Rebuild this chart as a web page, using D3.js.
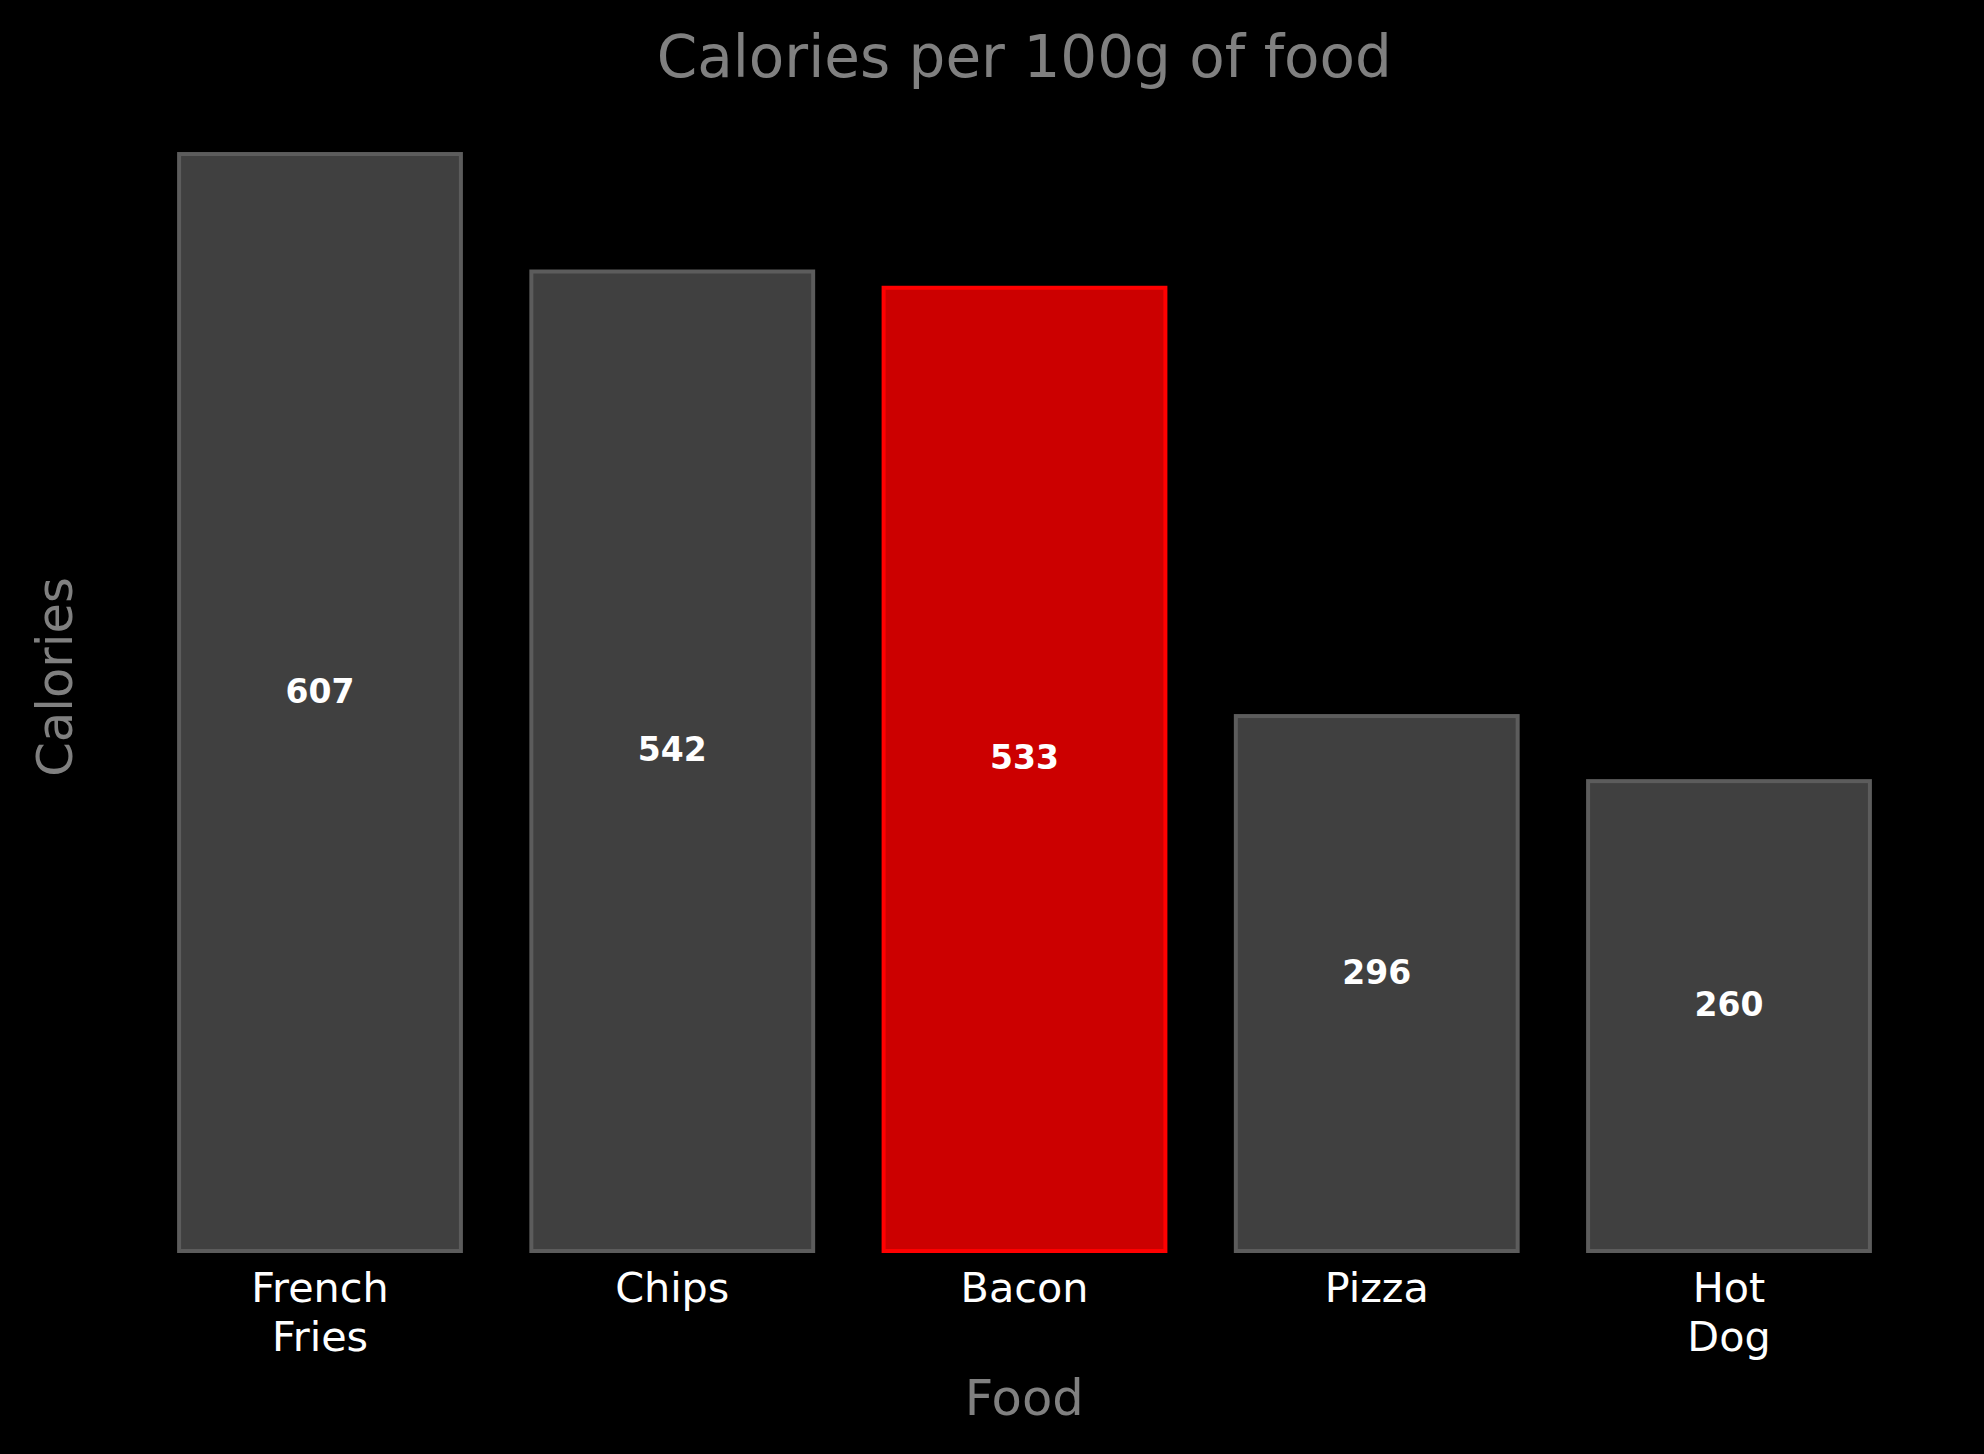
<!DOCTYPE html>
<html><head><meta charset="utf-8">
<script src="https://cdn.jsdelivr.net/npm/d3@7"></script>
<style>html,body{margin:0;padding:0;background:#000;}svg{display:block;}</style>
</head><body>
<script>
const categories = ["French Fries", "Chips", "Bacon", "Pizza", "Hot Dog"];
const tickLines = [["French", "Fries"], ["Chips"], ["Bacon"], ["Pizza"], ["Hot", "Dog"]];
const calories = [607, 542, 533, 296, 260];
const highlight = "Bacon";

const W = 1984, H = 1454;
const svg = d3.select("body").append("svg").attr("width", W).attr("height", H)
  .style("background", "#000");
svg.append("rect").attr("width", W).attr("height", H).attr("fill", "#000");

const font = "DejaVu Sans, sans-serif";
const x = d3.scaleBand().domain(categories).range([143.875, 1905.125])
  .paddingInner(0.2).paddingOuter(0.1);
const yMax = d3.max(calories) * 1.05;
const y = d3.scaleLinear().domain([0, yMax]).range([1251, 1251 - yMax * 1.8072]);

const data = categories.map((c, i) => ({c, v: calories[i], lines: tickLines[i]}));

svg.selectAll("rect.bar").data(data).join("rect").attr("class", "bar")
  .attr("x", d => x(d.c)).attr("width", x.bandwidth())
  .attr("y", d => y(d.v)).attr("height", d => y(0) - y(d.v))
  .attr("fill", d => d.c === highlight ? "#cc0000" : "#404040")
  .attr("stroke", d => d.c === highlight ? "#ff0000" : "#5c5c5c")
  .attr("stroke-width", 4);

svg.selectAll("text.val").data(data).join("text").attr("class", "val")
  .attr("x", d => x(d.c) + x.bandwidth() / 2).attr("y", d => y(d.v / 2))
  .attr("text-anchor", "middle").attr("fill", "#fff")
  .attr("font-family", font).attr("font-weight", "bold").attr("font-size", 33)
  .text(d => d.v);

const ticks = svg.selectAll("text.tick").data(data).join("text").attr("class", "tick")
  .attr("text-anchor", "middle").attr("fill", "#fff")
  .attr("font-family", font).attr("font-size", 41.3);
ticks.selectAll("tspan").data(d => d.lines.map(l => ({l, cx: x(d.c) + x.bandwidth() / 2})))
  .join("tspan").attr("x", d => d.cx).attr("y", (d, i) => 1302 + i * 48.5).text(d => d.l);

svg.append("text").attr("x", 1024.3).attr("y", 77).attr("text-anchor", "middle")
  .attr("fill", "#808080").attr("font-family", font).attr("font-size", 58)
  .text("Calories per 100g of food");

svg.append("text").attr("x", 1024.3).attr("y", 1415).attr("text-anchor", "middle")
  .attr("fill", "#808080").attr("font-family", font).attr("font-size", 49.6)
  .text("Food");

svg.append("text").attr("transform", "translate(72,677) rotate(-90)")
  .attr("text-anchor", "middle")
  .attr("fill", "#808080").attr("font-family", font).attr("font-size", 49.6)
  .text("Calories");
</script>
</body></html>
